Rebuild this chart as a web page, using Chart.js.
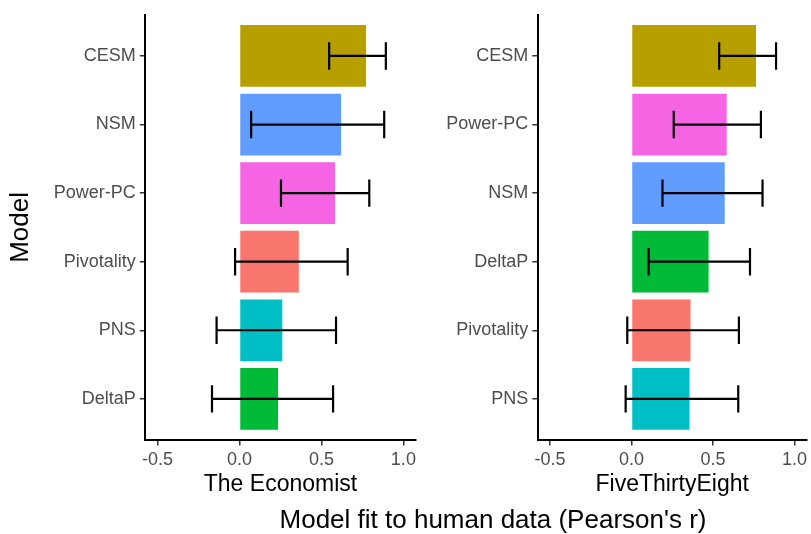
<!DOCTYPE html>
<html>
<head>
<meta charset="utf-8">
<script src="https://cdn.jsdelivr.net/npm/chart.js@4"></script>
<style>
  html, body { margin: 0; padding: 0; background: #fff; }
  #wrap { position: relative; width: 811px; height: 534px; overflow: hidden;
          font-family: "Liberation Sans", Arial, sans-serif; }
  #economist { position: absolute; left: 0; top: 0; }
  #fte { position: absolute; left: 420px; top: 0; }
  #xtitle { position: absolute; left: 493px; top: 506px; transform: translateX(-50%);
            white-space: nowrap; font-size: 26px; line-height: 26px; color: #000; }
</style>
</head>
<body>
<div id="wrap">
  <canvas id="economist" width="420" height="534"></canvas>
  <canvas id="fte" width="391" height="534"></canvas>
  <div id="xtitle">Model fit to human data (Pearson's r)</div>
</div>
<script>
// Models listed bottom to top, with Pearson's r and its confidence interval
const economistModels = ["DeltaP", "PNS", "Pivotality", "Power-PC", "NSM", "CESM"];
const economistR      = [0.235, 0.261, 0.362, 0.583, 0.620, 0.772];
const economistLow    = [-0.168, -0.140, -0.027, 0.253, 0.071, 0.547];
const economistHigh   = [0.571, 0.589, 0.660, 0.792, 0.883, 0.893];

const fteModels = ["PNS", "Pivotality", "DeltaP", "NSM", "Power-PC", "CESM"];
const fteR      = [0.356, 0.362, 0.473, 0.572, 0.584, 0.764];
const fteLow    = [-0.036, -0.026, 0.105, 0.190, 0.259, 0.538];
const fteHigh   = [0.655, 0.659, 0.727, 0.804, 0.794, 0.887];

const xTicks = [-0.5, 0.0, 0.5, 1.0];

const modelColors = {
  "Pivotality": "#F8766D",
  "CESM": "#B79F00",
  "DeltaP": "#00BA38",
  "PNS": "#00BFC4",
  "NSM": "#619CFF",
  "Power-PC": "#F564E3"
};

Chart.defaults.font.family = "'Liberation Sans', Arial, sans-serif";

// Horizontal error bars with end caps, drawn on top of the bars
const errorBars = {
  id: 'errorBars',
  afterDatasetsDraw(chart, args, opts) {
    const { ctx, scales: { x, y } } = chart;
    const ds = chart.data.datasets[0];
    ctx.save();
    ctx.strokeStyle = '#000';
    ctx.lineWidth = 2.2;
    ds.data.forEach((d, i) => {
      const yc = y.getPixelForValue(d.y);
      const half = Math.abs(y.getPixelForValue(d.y + opts.capHalf) - yc);
      const x0 = x.getPixelForValue(opts.low[i]);
      const x1 = x.getPixelForValue(opts.high[i]);
      ctx.beginPath();
      ctx.moveTo(x0, yc); ctx.lineTo(x1, yc);
      ctx.moveTo(x0, yc - half); ctx.lineTo(x0, yc + half);
      ctx.moveTo(x1, yc - half); ctx.lineTo(x1, yc + half);
      ctx.stroke();
    });
    ctx.restore();
  }
};

function makePanel(id, models, r, low, high, title, axisWidth, padRight, yTitle) {
  const positions = models.map((_, i) => i + 1);
  return new Chart(document.getElementById(id), {
    type: 'bar',
    data: {
      datasets: [{
        data: models.map((m, i) => ({ x: r[i], y: positions[i] })),
        backgroundColor: models.map(m => modelColors[m]),
        borderWidth: 0,
        barPercentage: 0.9,
        categoryPercentage: 1
      }]
    },
    options: {
      indexAxis: 'y',
      responsive: false,
      animation: false,
      devicePixelRatio: 1,
      layout: { padding: { top: 9, right: padRight, left: 0, bottom: 0 } },
      plugins: {
        legend: { display: false },
        tooltip: { enabled: false },
        errorBars: { low: low, high: high, capHalf: 0.2 }
      },
      scales: {
        x: {
          type: 'linear',
          min: -0.575,
          max: 1.075,
          afterBuildTicks: s => { s.ticks = xTicks.map(v => ({ value: v })); },
          afterFit: s => { s.height = 94; },
          ticks: {
            autoSkip: false, maxRotation: 0,
            callback: v => v.toFixed(1),
            color: '#4d4d4d', font: { size: 18 }, padding: 4
          },
          grid: { display: true, drawOnChartArea: false, drawTicks: true,
                  tickLength: 5.5, color: '#333', lineWidth: 1.5 },
          border: { display: true, color: '#000', width: 2 },
          title: { display: true, text: title, color: '#000',
                   font: { size: 23 }, padding: { top: 0, bottom: 36 } }
        },
        y: {
          type: 'linear',
          offset: false,
          min: 0.4,
          max: 6.6,
          afterBuildTicks: s => { s.ticks = positions.map(v => ({ value: v })); },
          afterFit: s => { s.width = axisWidth; },
          ticks: {
            autoSkip: false,
            callback: v => models[Math.round(v) - 1],
            color: '#4d4d4d', font: { size: 18 }, padding: 4
          },
          grid: { display: true, offset: false, drawOnChartArea: false, drawTicks: true,
                  tickLength: 5.5, color: '#333', lineWidth: 1.5 },
          border: { display: true, color: '#000', width: 2 },
          title: { display: !!yTitle, text: yTitle || '', color: '#000',
                   font: { size: 26 }, padding: { top: 5.5, bottom: 0 } }
        }
      }
    },
    plugins: [errorBars]
  });
}

makePanel('economist', economistModels, economistR, economistLow, economistHigh,
          'The Economist', 145.3, 2.5, 'Model');
makePanel('fte', fteModels, fteR, fteLow, fteHigh,
          'FiveThirtyEight', 117.8, 0.2, null);
</script>
</body>
</html>
